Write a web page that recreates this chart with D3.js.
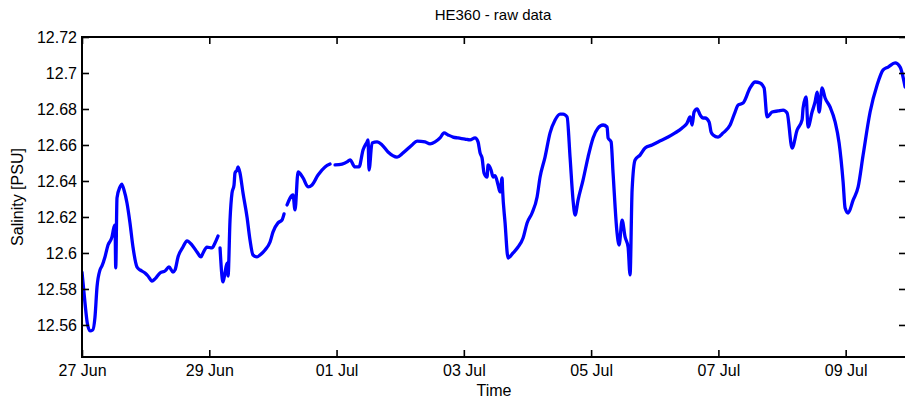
<!DOCTYPE html>
<html><head><meta charset="utf-8">
<script src="https://cdn.jsdelivr.net/npm/d3@7"></script>
<style>
html,body{margin:0;padding:0;background:#fff;}
svg{display:block;font-family:"Liberation Sans",Arial,sans-serif;}
</style></head>
<body><svg id="c" width="905" height="403"></svg>
<script>
// time in days since 27 Jun 00:00 ; salinity in PSU (null = gap)
const days = [0,0.047,0.083,0.126,0.168,0.204,0.236,0.283,0.314,0.361,0.409,0.471,0.503,0.519,0.530,0.550,0.597,0.624,0.660,0.707,0.754,0.801,0.864,0.911,0.990,1.037,1.100,1.147,1.226,1.304,1.367,1.430,1.462,1.509,1.587,1.650,1.729,1.807,1.870,1.902,1.964,2.043,2.090,2.137,
2.153,
2.169,2.216,2.247,2.279,2.295,2.326,2.357,2.389,2.404,2.436,2.452,2.483,2.530,2.593,2.640,2.687,2.750,2.797,2.876,2.955,3.002,3.080,3.143,3.175,
3.198,
3.222,3.316,3.347,3.395,3.473,3.552,3.615,3.709,3.819,3.898,
3.937,
3.976,4.086,4.165,4.212,4.290,4.353,4.416,4.479,4.495,4.510,4.558,4.636,4.715,4.809,4.950,5.045,5.186,5.265,5.391,5.469,5.548,5.626,5.689,5.752,5.831,5.909,6.019,6.098,6.176,6.223,6.255,6.286,6.318,6.365,6.381,6.428,6.459,6.491,6.538,6.569,6.601,6.609,6.648,6.695,6.774,6.852,6.931,6.994,7.072,7.151,7.198,7.276,7.355,7.434,7.512,7.559,7.622,7.669,7.716,7.748,7.795,7.874,7.952,8.031,8.109,8.188,8.251,8.267,8.314,8.345,8.408,8.440,8.487,8.534,8.581,8.612,8.644,8.691,8.769,8.848,8.958,9.052,9.210,9.320,9.430,9.508,9.555,9.587,9.618,9.665,9.713,9.760,9.791,9.854,9.885,9.917,9.995,10.074,10.184,10.262,10.310,10.388,10.498,10.577,10.655,10.718,10.765,10.844,10.938,11.017,11.080,11.158,11.237,11.315,11.331,11.378,11.409,11.472,11.519,11.551,11.583,11.630,11.677,11.755,11.834,11.897,11.960,11.991,12.039,12.117,12.196,12.274,12.384,12.494,12.589,12.667,12.777,12.856,12.934];
const salinity = [12.5894,12.5722,12.5611,12.5567,12.5572,12.5644,12.5811,12.5906,12.5928,12.5978,12.6044,12.6089,12.6144,12.6156,12.5917,12.6306,12.6367,12.6383,12.6350,12.6278,12.6167,12.6033,12.5922,12.5906,12.5889,12.5872,12.5844,12.5856,12.5889,12.5900,12.5922,12.5894,12.5906,12.5978,12.6033,12.6067,12.6044,12.6006,12.5978,12.6000,12.6033,12.6028,12.6056,12.6094,
null,
12.6028,12.5839,12.5889,12.5944,12.5872,12.6183,12.6333,12.6378,12.6444,12.6461,12.6478,12.6444,12.6333,12.6200,12.6072,12.5989,12.5978,12.5989,12.6017,12.6061,12.6117,12.6167,12.6183,12.6217,
null,
12.6267,12.6322,12.6239,12.6450,12.6417,12.6367,12.6378,12.6433,12.6478,12.6494,
null,
12.6489,12.6494,12.6506,12.6517,12.6478,12.6478,12.6572,12.6617,12.6628,12.6461,12.6611,12.6617,12.6600,12.6561,12.6533,12.6556,12.6600,12.6622,12.6617,12.6606,12.6617,12.6639,12.6667,12.6656,12.6644,12.6639,12.6633,12.6628,12.6639,12.6617,12.6556,12.6528,12.6444,12.6422,12.6489,12.6461,12.6422,12.6430,12.6378,12.6339,12.6417,12.6350,12.6167,12.5972,12.6000,12.6033,12.6083,12.6167,12.6222,12.6311,12.6422,12.6533,12.6667,12.6739,12.6772,12.6772,12.6756,12.6533,12.6294,12.6211,12.6294,12.6406,12.6533,12.6639,12.6694,12.6711,12.6700,12.6639,12.6617,12.6444,12.6111,12.6044,12.6183,12.6089,12.6033,12.5878,12.6350,12.6517,12.6544,12.6583,12.6600,12.6617,12.6644,12.6667,12.6694,12.6722,12.6756,12.6711,12.6783,12.6800,12.6767,12.6750,12.6750,12.6728,12.6672,12.6656,12.6644,12.6667,12.6711,12.6783,12.6822,12.6833,12.6917,12.6950,12.6944,12.6917,12.6756,12.6783,12.6789,12.6794,12.6778,12.6583,12.6683,12.6739,12.6806,12.6867,12.6700,12.6783,12.6839,12.6894,12.6783,12.6917,12.6861,12.6811,12.6728,12.6611,12.6394,12.6250,12.6222,12.6294,12.6367,12.6544,12.6783,12.6933,12.7017,12.7033,12.7056,12.7033,12.6922];
const xTickDays = [0,2,4,6,8,10,12];
const yTicks = [12.56,12.58,12.6,12.62,12.64,12.66,12.68,12.7,12.72];
const yDomain = [12.5422,12.72];
const xDomainDays = [0,12.948];
const titleText = "HE360 - raw data";
const xLabel = "Time";
const yLabel = "Salinity [PSU]";

const DAY = 86400000;
const t0 = Date.UTC(2013,5,27);
const toDate = d => new Date(t0 + d*DAY);

const svg = d3.select("#c");
const L=82, R=906, T=37, B=357;
const x = d3.scaleUtc().domain(xDomainDays.map(toDate)).range([L,R]);
const y = d3.scaleLinear().domain(yDomain).range([B,T]);

const data = days.map((d,i)=>({t:toDate(d), v:salinity[i]}));

svg.append("clipPath").attr("id","clp").append("rect")
  .attr("x",L).attr("y",T).attr("width",R-L).attr("height",B-T);

svg.append("path").datum(data)
  .attr("clip-path","url(#clp)")
  .attr("fill","none").attr("stroke","#0000ff").attr("stroke-width",3.3)
  .attr("stroke-linejoin","round").attr("stroke-linecap","round")
  .attr("d", d3.line().defined(d=>d.v!==null).curve(d3.curveMonotoneX).x(d=>x(d.t)).y(d=>y(d.v)));

const fmtX = d3.utcFormat("%d %b");
const fmtY = d => String(+d.toFixed(2));
const xt = xTickDays.map(toDate);

function style(g){
  g.select(".domain").remove();
  g.selectAll(".tick line").attr("stroke","#000").attr("stroke-width",1.6);
  g.selectAll("text").attr("fill","#000").style("font-size","16px")
   .style("font-family",'"Liberation Sans",Arial,sans-serif');
}
svg.append("g").attr("transform",`translate(0,${B})`)
  .call(d3.axisBottom(x).tickValues(xt).tickFormat(fmtX).tickSizeInner(-7).tickSizeOuter(0).tickPadding(8))
  .call(style);
svg.append("g").attr("transform",`translate(0,${T})`)
  .call(d3.axisTop(x).tickValues(xt).tickFormat("").tickSizeInner(-7).tickSizeOuter(0))
  .call(style);
svg.append("g").attr("transform",`translate(${L},0)`)
  .call(d3.axisLeft(y).tickValues(yTicks).tickFormat(fmtY).tickSizeInner(-7).tickSizeOuter(0).tickPadding(5))
  .call(style);
svg.append("g").attr("transform",`translate(${R},0)`)
  .call(d3.axisRight(y).tickValues(yTicks).tickFormat("").tickSizeInner(-7).tickSizeOuter(0))
  .call(style);

svg.append("rect").attr("x",L).attr("y",T).attr("width",R-L).attr("height",B-T)
  .attr("fill","none").attr("stroke","#000").attr("stroke-width",2);

svg.append("text").attr("x",493).attr("y",20).attr("text-anchor","middle")
  .style("font-size","15px").text(titleText);
svg.append("text").attr("x",494).attr("y",396).attr("text-anchor","middle")
  .style("font-size","16px").text(xLabel);
svg.append("text").attr("transform","translate(23,197) rotate(-90)").attr("text-anchor","middle")
  .style("font-size","16px").text(yLabel);
</script></body></html>
